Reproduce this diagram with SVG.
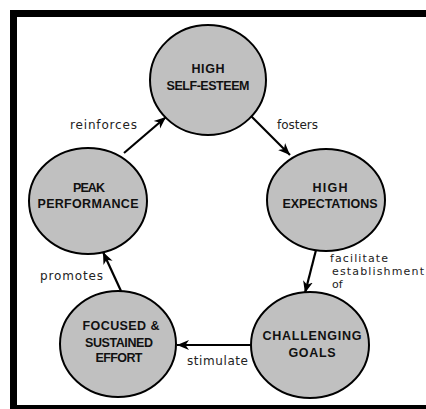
<svg xmlns="http://www.w3.org/2000/svg" width="426" height="409" viewBox="0 0 426 409">
<defs>
<style>
.node ellipse{fill:#c0c0c0;stroke:#000;stroke-width:2}
.node text{font-family:"Liberation Sans",Arial,sans-serif;font-weight:bold;font-size:12.5px;text-anchor:middle;fill:#111}
.lbl{font-family:"DejaVu Sans","Liberation Sans",sans-serif;font-size:12px;fill:#222}
.sm{font-size:11px}
.conn line{stroke:#000;stroke-width:2.2;marker-end:url(#arr)}
</style>
<marker id="arr" markerUnits="userSpaceOnUse" markerWidth="14" markerHeight="12" refX="12" refY="5" orient="auto" viewBox="0 0 14 10">
<path d="M0,0 L12,5 L0,10 L3.5,5 z" fill="#000"/>
</marker>
</defs>
<rect width="426" height="409" fill="#fff"/>
<rect x="13.5" y="13.5" width="440" height="395" fill="none" stroke="#000" stroke-width="7"/>
<g id="connectors" class="conn">
<line x1="124" y1="153" x2="166" y2="117"/>
<line x1="251" y1="116" x2="290" y2="155"/>
<line x1="316" y1="250" x2="305" y2="293"/>
<line x1="251" y1="345" x2="177" y2="345"/>
<line x1="121" y1="291" x2="103" y2="252"/>
</g>
<g id="high-self-esteem" class="node">
<ellipse cx="208" cy="80" rx="58" ry="55"/>
<text x="208" y="73" textLength="33">HIGH</text>
<text x="208" y="90" textLength="83">SELF-ESTEEM</text>
</g>
<g id="high-expectations" class="node">
<ellipse cx="326" cy="200" rx="59" ry="51"/>
<text x="330" y="192" textLength="35">HIGH</text>
<text x="330" y="208" textLength="95">EXPECTATIONS</text>
</g>
<g id="challenging-goals" class="node">
<ellipse cx="310" cy="345" rx="59" ry="53"/>
<text x="312" y="340" textLength="99">CHALLENGING</text>
<text x="312" y="357" textLength="47">GOALS</text>
</g>
<g id="focused-sustained-effort" class="node">
<ellipse cx="118" cy="344" rx="58" ry="53"/>
<text x="121" y="330" textLength="77">FOCUSED &amp;</text>
<text x="119" y="347" textLength="68">SUSTAINED</text>
<text x="119" y="362" textLength="47">EFFORT</text>
</g>
<g id="peak-performance" class="node">
<ellipse cx="88" cy="201" rx="59" ry="53"/>
<text x="89" y="192" textLength="32">PEAK</text>
<text x="88" y="208" textLength="101">PERFORMANCE</text>
</g>
<g id="labels">
<text class="lbl" x="70" y="129" textLength="67">reinforces</text>
<text class="lbl" x="277" y="129" textLength="41">fosters</text>
<text class="lbl sm" x="330" y="262" textLength="58">facilitate</text>
<text class="lbl sm" x="332" y="275" textLength="92">establishment</text>
<text class="lbl sm" x="332" y="288">of</text>
<text class="lbl" x="40" y="280" textLength="63">promotes</text>
<text class="lbl" x="187" y="365" textLength="61">stimulate</text>
</g>
</svg>
